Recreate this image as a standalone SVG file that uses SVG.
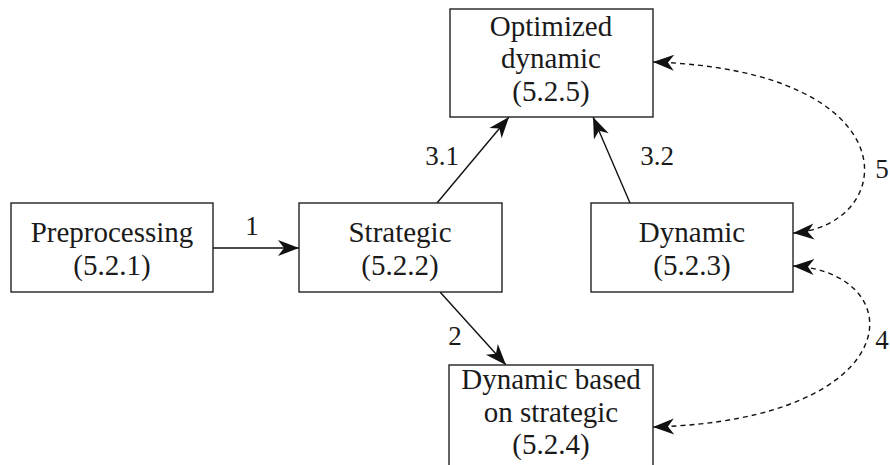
<svg xmlns="http://www.w3.org/2000/svg" width="890" height="465" viewBox="0 0 890 465">
  <style>
    .box { fill: #fff; stroke: #222; stroke-width: 1.4; }
    .edge { fill: none; stroke: #111; stroke-width: 1.4; }
    .dash { fill: none; stroke: #111; stroke-width: 1.4; stroke-dasharray: 5 4; }
    .head { fill: #111; }
  </style>
  <defs>
    <path id="stealth" d="M0,0 L-21,-8 L-15,0 L-21,8 Z"/>
  </defs>

  <rect width="890" height="465" fill="#fff"/>

  <!-- solid arrows, dashed two-way loops, and their stealth-style heads -->
  <g id="connectors">
    <line class="edge" x1="213" y1="248" x2="299" y2="248"/>
    <line class="edge" x1="437" y1="203" x2="509" y2="117"/>
    <line class="edge" x1="630" y1="203" x2="593" y2="117"/>
    <line class="edge" x1="440" y1="292" x2="506" y2="365"/>
    <path class="dash" d="M653,62 C912,70 900,225 793,233"/>
    <path class="dash" d="M793,266 C912,272 912,420 653,427"/>

    <use class="head" href="#stealth" transform="translate(299,248)"/>
    <use class="head" href="#stealth" transform="translate(509,117) rotate(-50.06)"/>
    <use class="head" href="#stealth" transform="translate(593,117) rotate(-113.28)"/>
    <use class="head" href="#stealth" transform="translate(506,365) rotate(47.88)"/>
    <use class="head" href="#stealth" transform="translate(653,62) rotate(181.8)"/>
    <use class="head" href="#stealth" transform="translate(793,233) rotate(175.7)"/>
    <use class="head" href="#stealth" transform="translate(793,266) rotate(182.9)"/>
    <use class="head" href="#stealth" transform="translate(653,427) rotate(178.5)"/>

    <text x="252" y="235" font-family="Times New Roman, Liberation Serif, serif" font-size="27" fill="#1a1a1a" text-anchor="middle">1</text>
    <text x="455" y="345" font-family="Times New Roman, Liberation Serif, serif" font-size="27" fill="#1a1a1a" text-anchor="middle">2</text>
    <text x="442" y="165" font-family="Times New Roman, Liberation Serif, serif" font-size="27" fill="#1a1a1a" text-anchor="middle">3.1</text>
    <text x="657" y="165" font-family="Times New Roman, Liberation Serif, serif" font-size="27" fill="#1a1a1a" text-anchor="middle">3.2</text>
    <text x="882" y="349" font-family="Times New Roman, Liberation Serif, serif" font-size="27" fill="#1a1a1a" text-anchor="middle">4</text>
    <text x="882" y="178" font-family="Times New Roman, Liberation Serif, serif" font-size="27" fill="#1a1a1a" text-anchor="middle">5</text>
  </g>

  <g id="preprocessing">
    <rect class="box" x="11" y="203" width="202" height="89"/>
    <text x="112" y="242" font-family="Times New Roman, Liberation Serif, serif" font-size="29" fill="#1a1a1a" text-anchor="middle">Preprocessing</text>
    <text x="112" y="275" font-family="Times New Roman, Liberation Serif, serif" font-size="29" fill="#1a1a1a" text-anchor="middle">(5.2.1)</text>
  </g>

  <g id="strategic">
    <rect class="box" x="299" y="203" width="203" height="89"/>
    <text x="400" y="242" font-family="Times New Roman, Liberation Serif, serif" font-size="29" fill="#1a1a1a" text-anchor="middle">Strategic</text>
    <text x="400" y="275" font-family="Times New Roman, Liberation Serif, serif" font-size="29" fill="#1a1a1a" text-anchor="middle">(5.2.2)</text>
  </g>

  <g id="dynamic">
    <rect class="box" x="591" y="203" width="202" height="89"/>
    <text x="692" y="242" font-family="Times New Roman, Liberation Serif, serif" font-size="29" fill="#1a1a1a" text-anchor="middle">Dynamic</text>
    <text x="692" y="275" font-family="Times New Roman, Liberation Serif, serif" font-size="29" fill="#1a1a1a" text-anchor="middle">(5.2.3)</text>
  </g>

  <g id="optimized-dynamic">
    <rect class="box" x="450" y="9" width="203" height="108"/>
    <text x="551" y="36" font-family="Times New Roman, Liberation Serif, serif" font-size="29" fill="#1a1a1a" text-anchor="middle">Optimized</text>
    <text x="551" y="68" font-family="Times New Roman, Liberation Serif, serif" font-size="29" fill="#1a1a1a" text-anchor="middle">dynamic</text>
    <text x="551" y="101" font-family="Times New Roman, Liberation Serif, serif" font-size="29" fill="#1a1a1a" text-anchor="middle">(5.2.5)</text>
  </g>

  <g id="dynamic-based-on-strategic">
    <rect class="box" x="449" y="365" width="204" height="110"/>
    <text x="551" y="389" font-family="Times New Roman, Liberation Serif, serif" font-size="29" fill="#1a1a1a" text-anchor="middle">Dynamic based</text>
    <text x="551" y="422" font-family="Times New Roman, Liberation Serif, serif" font-size="29" fill="#1a1a1a" text-anchor="middle">on strategic</text>
    <text x="551" y="454" font-family="Times New Roman, Liberation Serif, serif" font-size="29" fill="#1a1a1a" text-anchor="middle">(5.2.4)</text>
  </g>
</svg>
